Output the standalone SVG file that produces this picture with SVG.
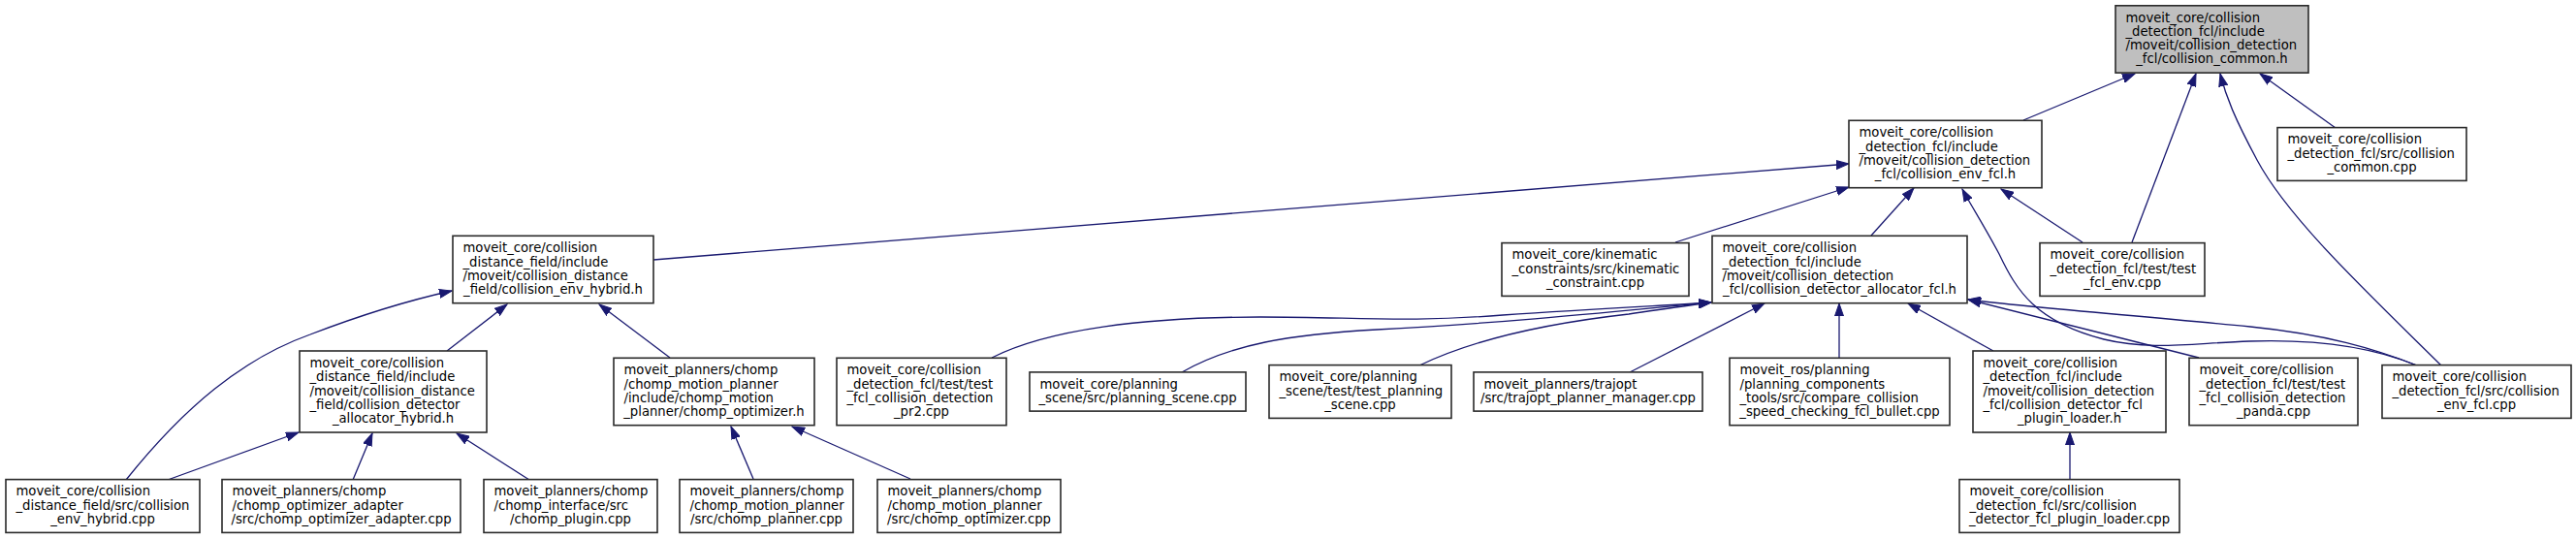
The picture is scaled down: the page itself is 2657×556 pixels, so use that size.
<svg xmlns="http://www.w3.org/2000/svg" width="2657" height="556" viewBox="0 0 2657 556">
<style>
.node rect{fill:#ffffff;stroke:#2a2a2a;stroke-width:1.6}
.root rect{fill:#bfbfbf}
.node text{font-family:"DejaVu Sans","Liberation Sans",sans-serif;font-size:13.2px;fill:#000000}
.c{text-anchor:middle}
.edges path{fill:none;stroke:#191970;stroke-width:1.3}
</style>
<defs>
<marker id="ah" markerUnits="userSpaceOnUse" markerWidth="14" markerHeight="10" viewBox="0 0 14 10" refX="13" refY="5" orient="auto">
<path d="M0,0.5 L13,5 L0,9.5 Z" fill="#191970" stroke="#191970" stroke-width="1"/>
</marker>
</defs>
<rect width="2657" height="556" fill="#ffffff"/>
<g class="edges">
<path d="M2087,124 L2202,76" marker-end="url(#ah)"/>
<path d="M2199,250 L2265,76" marker-end="url(#ah)"/>
<path d="M2518,377 C2440,300 2360,225 2328,165 C2305,122 2296,100 2290,76" marker-end="url(#ah)"/>
<path d="M2409,132 L2331,76" marker-end="url(#ah)"/>
<path d="M674,268 L1907,169" marker-end="url(#ah)"/>
<path d="M1728,250 L1907,193" marker-end="url(#ah)"/>
<path d="M1930,243 L1974,194" marker-end="url(#ah)"/>
<path d="M2493,377 C2440,355 2380,350 2320,352 C2260,354 2220,362 2170,350 C2100,332 2080,300 2062,262 C2046,232 2033,212 2024,195" marker-end="url(#ah)"/>
<path d="M2148,250 L2064,195" marker-end="url(#ah)"/>
<path d="M461,362 L523,314" marker-end="url(#ah)"/>
<path d="M691,369 L618,314" marker-end="url(#ah)"/>
<path d="M130,495 C190,420 250,370 320,345 C380,322 430,308 466,300" marker-end="url(#ah)"/>
<path d="M173,495 L308,446" marker-end="url(#ah)"/>
<path d="M364,495 L384,447" marker-end="url(#ah)"/>
<path d="M546,495 L471,447" marker-end="url(#ah)"/>
<path d="M777,494 L754,440" marker-end="url(#ah)"/>
<path d="M939,494 L817,440" marker-end="url(#ah)"/>
<path d="M1023,369 C1080,340 1180,327 1300,327 C1400,327 1450,333 1550,325 C1650,318 1720,315 1765,312" marker-end="url(#ah)"/>
<path d="M1219,384 C1270,355 1330,345 1420,340 C1540,334 1660,322 1765,312" marker-end="url(#ah)"/>
<path d="M1464,377 C1520,350 1600,333 1680,324 C1715,319 1740,315 1765,312" marker-end="url(#ah)"/>
<path d="M1681,384 L1820,313" marker-end="url(#ah)"/>
<path d="M1897,369 L1897,313" marker-end="url(#ah)"/>
<path d="M2056,362 L1968,313" marker-end="url(#ah)"/>
<path d="M2268,369 L2030,309" marker-end="url(#ah)"/>
<path d="M2493,377 C2450,360 2400,345 2321,337 C2200,325 2100,318 2030,309" marker-end="url(#ah)"/>
<path d="M2135,495 L2135,446" marker-end="url(#ah)"/>
</g>
<g id="node-root" class="node root"><rect x="2182" y="5.8" width="199" height="69.3"/><text x="2192.5" y="22.7">moveit_core/collision</text><text x="2192.5" y="36.9">_detection_fcl/include</text><text x="2192.5" y="51.1">/moveit/collision_detection</text><text class="c" x="2281.5" y="65.3">_fcl/collision_common.h</text></g>
<g id="node-env-fcl-h" class="node"><rect x="1907" y="124.3" width="199" height="69.4"/><text x="1917.5" y="141.3">moveit_core/collision</text><text x="1917.5" y="155.5">_detection_fcl/include</text><text x="1917.5" y="169.7">/moveit/collision_detection</text><text class="c" x="2006.5" y="183.9">_fcl/collision_env_fcl.h</text></g>
<g id="node-common-cpp" class="node"><rect x="2349" y="131.6" width="195" height="54.8"/><text x="2359.5" y="148.4">moveit_core/collision</text><text x="2359.5" y="162.6">_detection_fcl/src/collision</text><text class="c" x="2446.5" y="176.8">_common.cpp</text></g>
<g id="node-env-hybrid-h" class="node"><rect x="467" y="243.3" width="207" height="69.4"/><text x="477.5" y="260.3">moveit_core/collision</text><text x="477.5" y="274.5">_distance_field/include</text><text x="477.5" y="288.7">/moveit/collision_distance</text><text class="c" x="570.5" y="302.9">_field/collision_env_hybrid.h</text></g>
<g id="node-kinematic" class="node"><rect x="1549" y="250.6" width="193" height="54.8"/><text x="1559.5" y="267.4">moveit_core/kinematic</text><text x="1559.5" y="281.6">_constraints/src/kinematic</text><text class="c" x="1645.5" y="295.8">_constraint.cpp</text></g>
<g id="node-alloc-fcl-h" class="node"><rect x="1766" y="243.3" width="263" height="69.4"/><text x="1776.5" y="260.3">moveit_core/collision</text><text x="1776.5" y="274.5">_detection_fcl/include</text><text x="1776.5" y="288.7">/moveit/collision_detection</text><text class="c" x="1897.5" y="302.9">_fcl/collision_detector_allocator_fcl.h</text></g>
<g id="node-test-fcl-env" class="node"><rect x="2104" y="250.6" width="170" height="54.8"/><text x="2114.5" y="267.4">moveit_core/collision</text><text x="2114.5" y="281.6">_detection_fcl/test/test</text><text class="c" x="2189" y="295.8">_fcl_env.cpp</text></g>
<g id="node-alloc-hybrid-h" class="node"><rect x="309" y="362" width="193" height="84"/><text x="319.5" y="379.2">moveit_core/collision</text><text x="319.5" y="393.4">_distance_field/include</text><text x="319.5" y="407.6">/moveit/collision_distance</text><text x="319.5" y="421.8">_field/collision_detector</text><text class="c" x="405.5" y="436">_allocator_hybrid.h</text></g>
<g id="node-chomp-optimizer-h" class="node"><rect x="633" y="369.3" width="207" height="69.4"/><text x="643.5" y="386.3">moveit_planners/chomp</text><text x="643.5" y="400.5">/chomp_motion_planner</text><text x="643.5" y="414.7">/include/chomp_motion</text><text class="c" x="736.5" y="428.9">_planner/chomp_optimizer.h</text></g>
<g id="node-pr2" class="node"><rect x="863" y="369.3" width="175" height="69.4"/><text x="873.5" y="386.3">moveit_core/collision</text><text x="873.5" y="400.5">_detection_fcl/test/test</text><text x="873.5" y="414.7">_fcl_collision_detection</text><text class="c" x="950.5" y="428.9">_pr2.cpp</text></g>
<g id="node-planning-scene" class="node"><rect x="1062" y="383.9" width="223" height="40.2"/><text x="1072.5" y="400.5">moveit_core/planning</text><text class="c" x="1173.5" y="414.7">_scene/src/planning_scene.cpp</text></g>
<g id="node-test-planning-scene" class="node"><rect x="1309" y="376.6" width="188" height="54.8"/><text x="1319.5" y="393.4">moveit_core/planning</text><text x="1319.5" y="407.6">_scene/test/test_planning</text><text class="c" x="1403" y="421.8">_scene.cpp</text></g>
<g id="node-trajopt" class="node"><rect x="1520" y="383.9" width="236" height="40.2"/><text x="1530.5" y="400.5">moveit_planners/trajopt</text><text class="c" x="1638" y="414.7">/src/trajopt_planner_manager.cpp</text></g>
<g id="node-compare" class="node"><rect x="1784" y="369.3" width="227" height="69.4"/><text x="1794.5" y="386.3">moveit_ros/planning</text><text x="1794.5" y="400.5">/planning_components</text><text x="1794.5" y="414.7">_tools/src/compare_collision</text><text class="c" x="1897.5" y="428.9">_speed_checking_fcl_bullet.cpp</text></g>
<g id="node-plugin-loader-h" class="node"><rect x="2035" y="362" width="199" height="84"/><text x="2045.5" y="379.2">moveit_core/collision</text><text x="2045.5" y="393.4">_detection_fcl/include</text><text x="2045.5" y="407.6">/moveit/collision_detection</text><text x="2045.5" y="421.8">_fcl/collision_detector_fcl</text><text class="c" x="2134.5" y="436">_plugin_loader.h</text></g>
<g id="node-panda" class="node"><rect x="2258" y="369.3" width="174" height="69.4"/><text x="2268.5" y="386.3">moveit_core/collision</text><text x="2268.5" y="400.5">_detection_fcl/test/test</text><text x="2268.5" y="414.7">_fcl_collision_detection</text><text class="c" x="2345" y="428.9">_panda.cpp</text></g>
<g id="node-env-fcl-cpp" class="node"><rect x="2457" y="376.6" width="195" height="54.8"/><text x="2467.5" y="393.4">moveit_core/collision</text><text x="2467.5" y="407.6">_detection_fcl/src/collision</text><text class="c" x="2554.5" y="421.8">_env_fcl.cpp</text></g>
<g id="node-env-hybrid-cpp" class="node"><rect x="6" y="494.6" width="200" height="54.8"/><text x="16.5" y="511.4">moveit_core/collision</text><text x="16.5" y="525.6">_distance_field/src/collision</text><text class="c" x="106" y="539.8">_env_hybrid.cpp</text></g>
<g id="node-adapter" class="node"><rect x="229" y="494.6" width="246" height="54.8"/><text x="239.5" y="511.4">moveit_planners/chomp</text><text x="239.5" y="525.6">/chomp_optimizer_adapter</text><text class="c" x="352" y="539.8">/src/chomp_optimizer_adapter.cpp</text></g>
<g id="node-chomp-plugin" class="node"><rect x="499" y="494.6" width="179" height="54.8"/><text x="509.5" y="511.4">moveit_planners/chomp</text><text x="509.5" y="525.6">/chomp_interface/src</text><text class="c" x="588.5" y="539.8">/chomp_plugin.cpp</text></g>
<g id="node-chomp-planner" class="node"><rect x="701" y="494.6" width="179" height="54.8"/><text x="711.5" y="511.4">moveit_planners/chomp</text><text x="711.5" y="525.6">/chomp_motion_planner</text><text class="c" x="790.5" y="539.8">/src/chomp_planner.cpp</text></g>
<g id="node-chomp-optimizer-cpp" class="node"><rect x="905" y="494.6" width="189" height="54.8"/><text x="915.5" y="511.4">moveit_planners/chomp</text><text x="915.5" y="525.6">/chomp_motion_planner</text><text class="c" x="999.5" y="539.8">/src/chomp_optimizer.cpp</text></g>
<g id="node-plugin-loader-cpp" class="node"><rect x="2021" y="494.6" width="227" height="54.8"/><text x="2031.5" y="511.4">moveit_core/collision</text><text x="2031.5" y="525.6">_detection_fcl/src/collision</text><text class="c" x="2134.5" y="539.8">_detector_fcl_plugin_loader.cpp</text></g>
</svg>
